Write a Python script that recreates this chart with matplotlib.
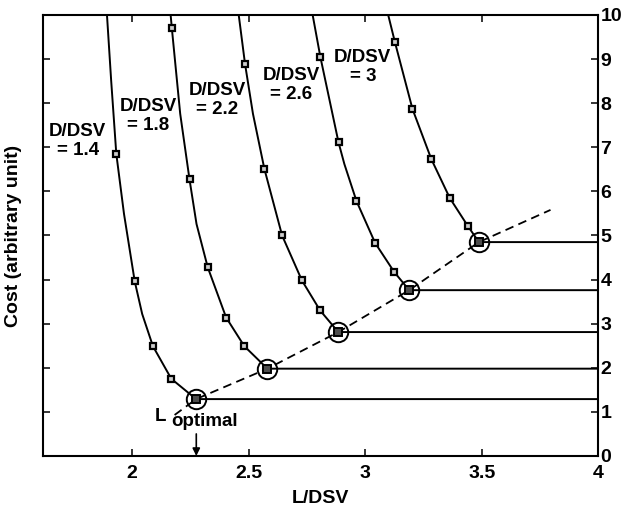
import matplotlib
matplotlib.use("Agg")
import matplotlib.pyplot as plt

plt.rcParams['font.family'] = ['Liberation Sans', 'DejaVu Sans']
plt.rcParams['font.weight'] = 'bold'

# traced curve points (L/DSV, cost), top of frame down to the minimum
x_14 = [1.893, 1.911, 1.933, 1.966, 2.012, 2.044, 2.090, 2.169, 2.275]
y_14 = [10.0, 8.51, 6.85, 5.49, 3.96, 3.22, 2.49, 1.75, 1.29]
x_18 = [2.166, 2.171, 2.207, 2.247, 2.277, 2.325, 2.404, 2.482, 2.581]
y_18 = [10.0, 9.71, 7.76, 6.27, 5.26, 4.28, 3.14, 2.49, 1.98]
x_22 = [2.458, 2.485, 2.519, 2.568, 2.644, 2.729, 2.807, 2.885]
y_22 = [10.0, 8.89, 7.76, 6.51, 5.00, 3.98, 3.30, 2.81]
x_26 = [2.775, 2.808, 2.886, 2.911, 2.963, 3.043, 3.125, 3.189]
y_26 = [10.0, 9.05, 7.11, 6.62, 5.78, 4.83, 4.17, 3.76]
x_30 = [3.099, 3.128, 3.203, 3.284, 3.363, 3.441, 3.488]
y_30 = [10.0, 9.38, 7.87, 6.73, 5.85, 5.21, 4.85]

# square markers on each curve
mx_14 = [1.933, 2.012, 2.090, 2.169]
my_14 = [6.85, 3.96, 2.49, 1.75]
mx_18 = [2.171, 2.247, 2.325, 2.404, 2.482]
my_18 = [9.71, 6.27, 4.28, 3.14, 2.49]
mx_22 = [2.485, 2.568, 2.644, 2.729, 2.807]
my_22 = [8.89, 6.51, 5.00, 3.98, 3.30]
mx_26 = [2.808, 2.886, 2.963, 3.043, 3.125]
my_26 = [9.05, 7.11, 5.78, 4.83, 4.17]
mx_30 = [3.128, 3.203, 3.284, 3.363, 3.441]
my_30 = [9.38, 7.87, 6.73, 5.85, 5.21]

# minima (circled) and the optimum locus
min_x = [2.275, 2.581, 2.885, 3.189, 3.488]
min_y = [1.29, 1.98, 2.81, 3.76, 4.85]
locus_x = [2.183] + min_x + [3.795]
locus_y = [0.93] + min_y + [5.58]

labels = ["D/DSV\n= 1.4", "D/DSV\n= 1.8", "D/DSV\n= 2.2", "D/DSV\n= 2.6", "D/DSV\n= 3"]
label_x = [1.768, 2.069, 2.365, 2.684, 2.99]
label_y = [7.14, 7.70, 8.07, 8.41, 8.83]

x_max = 4.0
l_opt = 2.276

fig = plt.figure(figsize=(6.25, 5.2), dpi=100)
ax = fig.add_axes([0.0693, 0.1231, 0.8880, 0.8481])

curves = [(x_14, y_14), (x_18, y_18), (x_22, y_22), (x_26, y_26), (x_30, y_30)]
marks = [(mx_14, my_14), (mx_18, my_18), (mx_22, my_22), (mx_26, my_26), (mx_30, my_30)]

for (cx, cy), (mx, my) in zip(curves, marks):
    # curve down to the minimum, then flat to the right edge
    ax.plot(cx + [x_max], cy + [cy[-1]], color='k', lw=1.4,
            solid_joinstyle='round')
    ax.plot(mx, my, 's', ms=5, mfc='0.8', mec='k', mew=1.6)

ax.plot(locus_x, locus_y, color='k', lw=1.3, dashes=(4.8, 3))
ax.plot(min_x, min_y, 's', ms=5.5, mfc='0.3', mec='k', mew=1.4)
ax.plot(min_x, min_y, 'o', ms=14, mfc='none', mec='k', mew=1.4)

for t, lx, ly in zip(labels, label_x, label_y):
    ax.text(lx, ly, t, ha='center', va='center', fontsize=13.5,
            fontweight='bold', linespacing=1.15)

ax.text(2.097, 0.794, "L", fontsize=13.5, fontweight='bold', ha='left', va='baseline')
ax.text(2.169, 0.686, "optimal", fontsize=13.5, fontweight='bold', ha='left', va='baseline')
ax.annotate('', xy=(l_opt, 0.0), xytext=(l_opt, 0.5),
            arrowprops=dict(arrowstyle='-|>', color='k', lw=1.2, mutation_scale=11,
                            shrinkA=0, shrinkB=0))

ax.set_xlim(1.62, 4)
ax.set_ylim(0, 10)
ax.set_xticks([2, 2.5, 3, 3.5, 4])
ax.set_xticklabels(["2", "2.5", "3", "3.5", "4"])
ax.set_yticks(range(0, 11))
ax.tick_params(axis='both', direction='in', length=5, width=1.1,
               top=True, right=True, left=True, bottom=True, labelsize=14)
ax.tick_params(axis='y', labelleft=False, labelright=True, pad=1.5)
ax.tick_params(axis='x', pad=6.5)
for s in ax.spines.values():
    s.set_linewidth(1.5)

ax.set_xlabel("L/DSV", fontsize=14, fontweight='bold', labelpad=6)
ax.set_ylabel("Cost (arbitrary unit)", fontsize=14, fontweight='bold', labelpad=15)

plt.savefig("out.png", dpi=100)
